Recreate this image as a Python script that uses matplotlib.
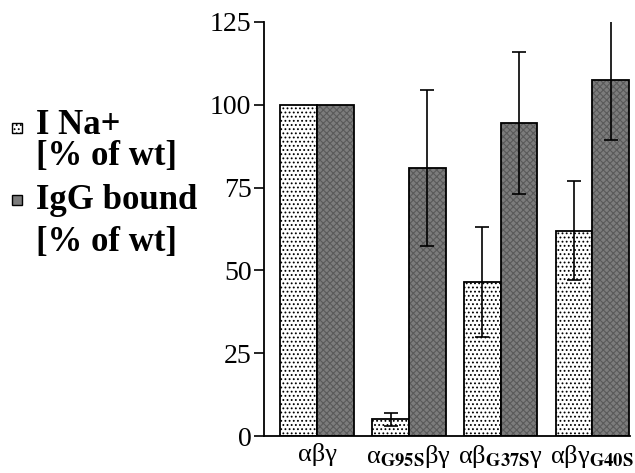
import numpy as np
import matplotlib
matplotlib.use('Agg')
import matplotlib.pyplot as plt
from matplotlib.patches import Rectangle

plt.rcParams['font.family'] = 'Liberation Serif'
plt.rcParams['mathtext.fontset'] = 'stix'
plt.rcParams['hatch.linewidth'] = 0.8

groups = ['αβγ',
          r'α$_{\mathbf{G95S}}$βγ',
          r'αβ$_{\mathbf{G37S}}$γ',
          r'αβγ$_{\mathbf{G40S}}$']
ina = [100, 5, 46.5, 62]
ina_err = [0, 2, 16.5, 15]
igg = [100, 81, 94.5, 107.5]
igg_err = [0, 23.5, 21.5, 18]

fig = plt.figure(figsize=(6.35, 4.73), dpi=100)
ax = fig.add_axes([0.4157, 0.0782, 0.5763, 0.8753])

x = np.arange(len(groups))
w = 0.4
ax.bar(x - w / 2, ina, w, color='white', edgecolor='black', hatch='....', linewidth=1.3, zorder=2)
ax.bar(x + w / 2, igg, w, color='#7c7c7c', edgecolor='#5a5a5a', hatch='xxxxx', linewidth=0, zorder=2)
ax.bar(x + w / 2, igg, w, color='none', edgecolor='black', linewidth=1.3, zorder=3)

ax.errorbar(x[1:] - w / 2, ina[1:], yerr=ina_err[1:], fmt='none', ecolor='black',
            elinewidth=1.2, capsize=5, capthick=1.2, zorder=4)
ax.errorbar(x[1:] + w / 2, igg[1:], yerr=igg_err[1:], fmt='none', ecolor='black',
            elinewidth=1.2, capsize=5, capthick=1.2, zorder=4)

ax.set_xlim(-0.58, 3.41)
ax.set_ylim(0, 125)
ax.set_yticks([0, 25, 50, 75, 100, 125])
ax.set_xticks(x)
ax.set_xticklabels(groups, fontsize=19)
ax.tick_params(axis='x', length=0, pad=5)
ax.tick_params(axis='y', direction='out', length=7, width=1.2, labelsize=20, pad=2)
ax.spines['top'].set_visible(False)
ax.spines['right'].set_visible(False)
ax.spines['left'].set_linewidth(1.3)
ax.spines['bottom'].set_linewidth(1.3)

# legend drawn at left
fig.patches.append(Rectangle((12 / 635, 1 - 133 / 473), 10 / 635, 10 / 473, transform=fig.transFigure,
                             facecolor='white', edgecolor='black', hatch='....', linewidth=1))
fig.patches.append(Rectangle((12 / 635, 1 - 205 / 473), 10 / 635, 10 / 473, transform=fig.transFigure,
                             facecolor='#7c7c7c', edgecolor='black', linewidth=1))
fig.text(36 / 635, 1 - 126 / 473, 'I Na+', fontsize=25, fontweight='bold', va='center')
fig.text(36 / 635, 1 - 157 / 473, '[% of wt]', fontsize=25, fontweight='bold', va='center')
fig.text(36 / 635, 1 - 200 / 473, 'IgG bound', fontsize=25, fontweight='bold', va='center')
fig.text(36 / 635, 1 - 242 / 473, '[% of wt]', fontsize=25, fontweight='bold', va='center')

fig.savefig('out.png', dpi=100)
